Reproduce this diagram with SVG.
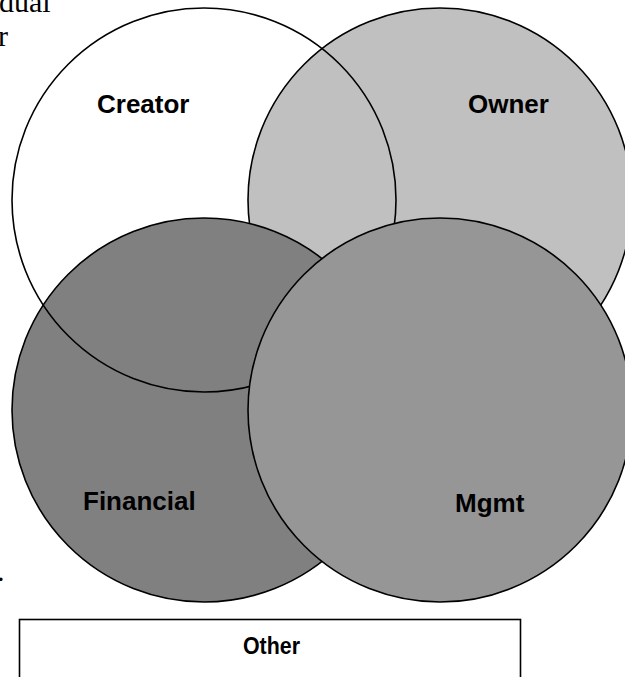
<svg xmlns="http://www.w3.org/2000/svg" width="625" height="677" viewBox="0 0 625 677">
<style>
.bg{font-family:"Liberation Serif","Times New Roman",serif;font-size:30px;fill:#000}
.c{stroke:#000;stroke-width:1.6}
.lbl{font-family:"Liberation Sans",Arial,sans-serif;font-weight:bold;font-size:26px;fill:#000}
</style>
<rect width="625" height="677" fill="#fff"/>
<g id="clipped-text">
<text class="bg" x="-1" y="12">dual</text>
<text class="bg" x="-2" y="46">r</text>
<text class="bg" x="-3" y="581">.</text>
</g>
<g id="connectors"></g>
<g id="owner">
<circle class="c" cx="440" cy="200" r="192" fill="#c0c0c0"/>
<text class="lbl" x="468" y="113">Owner</text>
</g>
<g id="financial">
<circle class="c" cx="204" cy="410" r="192" fill="#808080"/>
<text class="lbl" x="83" y="510">Financial</text>
</g>
<g id="creator">
<circle class="c" cx="204" cy="200" r="192" fill="none"/>
<text class="lbl" x="97" y="113">Creator</text>
</g>
<g id="mgmt">
<circle class="c" cx="440" cy="410" r="192" fill="#969696"/>
<text class="lbl" x="455" y="512">Mgmt</text>
</g>
<g id="other">
<rect x="19.5" y="619.5" width="501" height="70" fill="#fff" stroke="#000" stroke-width="1.6"/>
<text class="lbl" x="243" y="654" textLength="57" lengthAdjust="spacingAndGlyphs" style="font-size:24px">Other</text>
</g>
</svg>
